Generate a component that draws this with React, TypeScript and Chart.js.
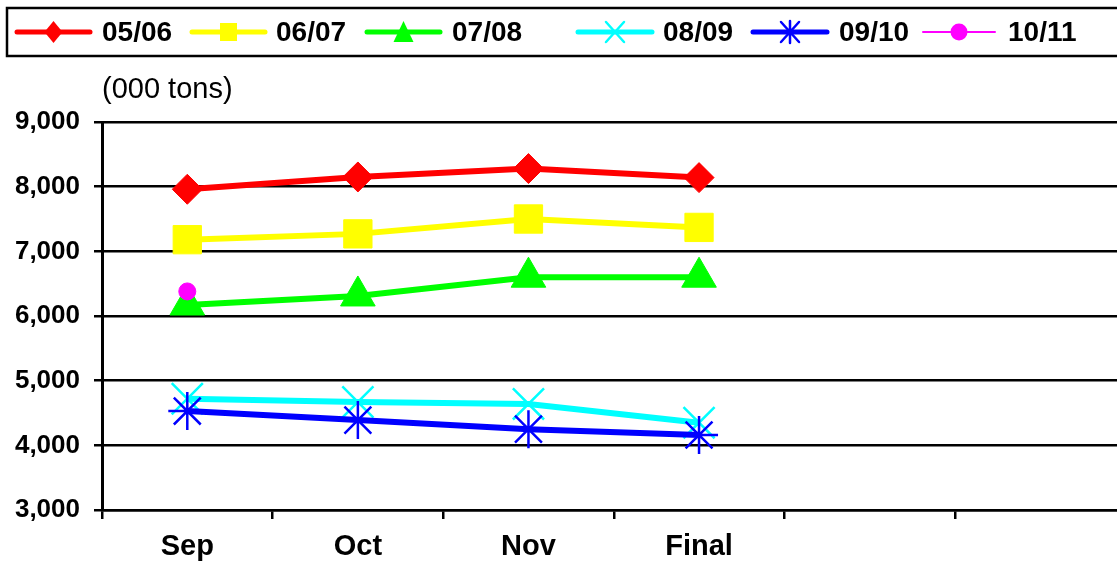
import React, { useEffect, useRef } from "react";
import { Chart, registerables } from "chart.js";

Chart.register(...registerables);

const categories = ["Sep", "Oct", "Nov", "Final", "", ""];
const s0506 = [7960, 8150, 8280, 8140, null, null];
const s0607 = [7180, 7270, 7500, 7370, null, null];
const s0708 = [6170, 6310, 6600, 6600, null, null];
const s0809 = [4720, 4670, 4640, 4350, null, null];
const s0910 = [4530, 4390, 4250, 4160, null, null];
const s1011 = [6380, null, null, null, null, null];
const seriesNames = ["05/06", "06/07", "07/08", "08/09", "09/10", "10/11"];
const yTicks = [3000, 4000, 5000, 6000, 7000, 8000, 9000];
const unitLabel = "(000 tons)";

const FONT = "'Liberation Sans', Arial, sans-serif";

type LegendSpec = { color: string; lw: number; style: string; x1: number; x2: number; tx: number };

const legendSpecs: LegendSpec[] = [
  { color: "#ff0000", lw: 5, style: "diamond", x1: 17, x2: 90, tx: 102 },
  { color: "#ffff00", lw: 5, style: "square", x1: 192, x2: 265, tx: 276 },
  { color: "#00ff00", lw: 5, style: "triangle", x1: 367, x2: 440, tx: 452 },
  { color: "#00ffff", lw: 5, style: "x", x1: 578, x2: 652, tx: 663 },
  { color: "#0000ff", lw: 5, style: "star", x1: 753, x2: 827, tx: 839 },
  { color: "#ff00ff", lw: 2, style: "circle", x1: 923, x2: 995, tx: 1008 },
];

function drawMarker(ctx: CanvasRenderingContext2D, style: string, x: number, y: number, color: string) {
  ctx.save();
  ctx.fillStyle = color;
  ctx.strokeStyle = color;
  ctx.beginPath();
  if (style === "diamond") {
    ctx.moveTo(x, y - 11); ctx.lineTo(x + 9, y); ctx.lineTo(x, y + 11); ctx.lineTo(x - 9, y); ctx.closePath(); ctx.fill();
  } else if (style === "square") {
    ctx.rect(x - 8.5, y - 9, 17, 18); ctx.fill();
  } else if (style === "triangle") {
    ctx.moveTo(x, y - 11); ctx.lineTo(x + 10, y + 10); ctx.lineTo(x - 10, y + 10); ctx.closePath(); ctx.fill();
  } else if (style === "x") {
    ctx.lineWidth = 2.5;
    ctx.moveTo(x - 9, y - 10); ctx.lineTo(x + 9, y + 10); ctx.moveTo(x + 9, y - 10); ctx.lineTo(x - 9, y + 10); ctx.stroke();
  } else if (style === "star") {
    ctx.lineWidth = 2.5;
    ctx.moveTo(x - 9, y - 10); ctx.lineTo(x + 9, y + 10); ctx.moveTo(x + 9, y - 10); ctx.lineTo(x - 9, y + 10);
    ctx.moveTo(x, y - 11); ctx.lineTo(x, y + 11); ctx.stroke();
  } else if (style === "circle") {
    ctx.arc(x, y, 8.5, 0, Math.PI * 2); ctx.fill();
  }
  ctx.restore();
}

const decorPlugin = {
  id: "decor",
  afterDraw(chart: any) {
    const ctx: CanvasRenderingContext2D = chart.ctx;
    ctx.save();
    ctx.strokeStyle = "#000";
    ctx.lineWidth = 2.5;
    ctx.strokeRect(7, 8, 1160, 48);
    const ly = 32;
    legendSpecs.forEach((s, i) => {
      ctx.strokeStyle = s.color;
      ctx.lineWidth = s.lw;
      ctx.lineCap = "round";
      ctx.beginPath();
      ctx.moveTo(s.x1, ly);
      ctx.lineTo(s.x2, ly);
      ctx.stroke();
      drawMarker(ctx, s.style, (s.x1 + s.x2) / 2, ly, s.color);
      ctx.fillStyle = "#000";
      ctx.font = `bold 28px ${FONT}`;
      ctx.textBaseline = "middle";
      ctx.textAlign = "left";
      ctx.fillText(seriesNames[i], s.tx, ly + 1);
    });
    ctx.fillStyle = "#000";
    ctx.font = `29px ${FONT}`;
    ctx.textAlign = "left";
    ctx.textBaseline = "middle";
    ctx.fillText(unitLabel, 102, 90);
    ctx.restore();
  },
};

export default function App() {
  const ref = useRef<HTMLCanvasElement | null>(null);
  useEffect(() => {
    document.body.style.margin = "0";
    document.body.style.overflow = "hidden";
    const canvas = ref.current!;
    const mk = (idx: number, data: (number | null)[], color: string, style: string, radius: number, lw: number, bw: number) => ({
      label: seriesNames[idx],
      data,
      order: -idx,
      borderColor: color,
      backgroundColor: color,
      borderWidth: lw,
      pointStyle: style,
      pointRadius: radius,
      pointBorderWidth: bw,
      pointBackgroundColor: color,
      pointBorderColor: color,
      tension: 0,
      spanGaps: false,
    });
    const chart = new Chart(canvas, {
      type: "line",
      data: {
        labels: categories,
        datasets: [
          mk(0, s0506, "#ff0000", "rectRot", 15, 6, 1),
          mk(1, s0607, "#ffff00", "rect", 20, 6, 1),
          mk(2, s0708, "#00ff00", "triangle", 20, 6, 1),
          mk(3, s0809, "#00ffff", "crossRot", 22, 6, 2.5),
          mk(4, s0910, "#0000ff", "star", 19, 6, 2.5),
          mk(5, s1011, "#ff00ff", "circle", 8.5, 2, 1),
        ] as any,
      },
      options: {
        responsive: false,
        animation: false,
        devicePixelRatio: 1,
        layout: { padding: { top: 122, left: 0, right: 0, bottom: 0 } },
        plugins: { legend: { display: false }, tooltip: { enabled: false }, title: { display: false } },
        scales: {
          x: {
            type: "category",
            offset: true,
            grid: { display: true, offset: true, drawOnChartArea: false, drawTicks: true, tickLength: 9, color: "#000", lineWidth: 2.5 },
            border: { display: true, color: "#000", width: 2.5 },
            ticks: { color: "#000", font: { family: FONT, size: 29, weight: "bold" }, padding: 11, maxRotation: 0, autoSkip: false },
            afterFit: (s: any) => { s.height = 53; s.paddingLeft = 0; s.paddingRight = 0; },
          },
          y: {
            min: yTicks[0],
            max: yTicks[yTicks.length - 1],
            afterBuildTicks: (s: any) => { s.ticks = yTicks.map((v) => ({ value: v })); },
            grid: { color: "#000", lineWidth: 2.5, drawTicks: true, tickLength: 8 },
            border: { display: true, color: "#000", width: 3 },
            ticks: {
              color: "#000",
              font: { family: FONT, size: 26, weight: "bold" },
              padding: 14,
              callback: (v: any) => Number(v).toLocaleString("en-US"),
            },
            afterFit: (s: any) => { s.width = 102; },
          },
        },
      } as any,
      plugins: [decorPlugin],
    });
    return () => chart.destroy();
  }, []);
  return (
    <div style={{ width: 1117, height: 563, overflow: "hidden", background: "#fff" }}>
      <canvas ref={ref} width={1150} height={563} style={{ display: "block" }} />
    </div>
  );
}
